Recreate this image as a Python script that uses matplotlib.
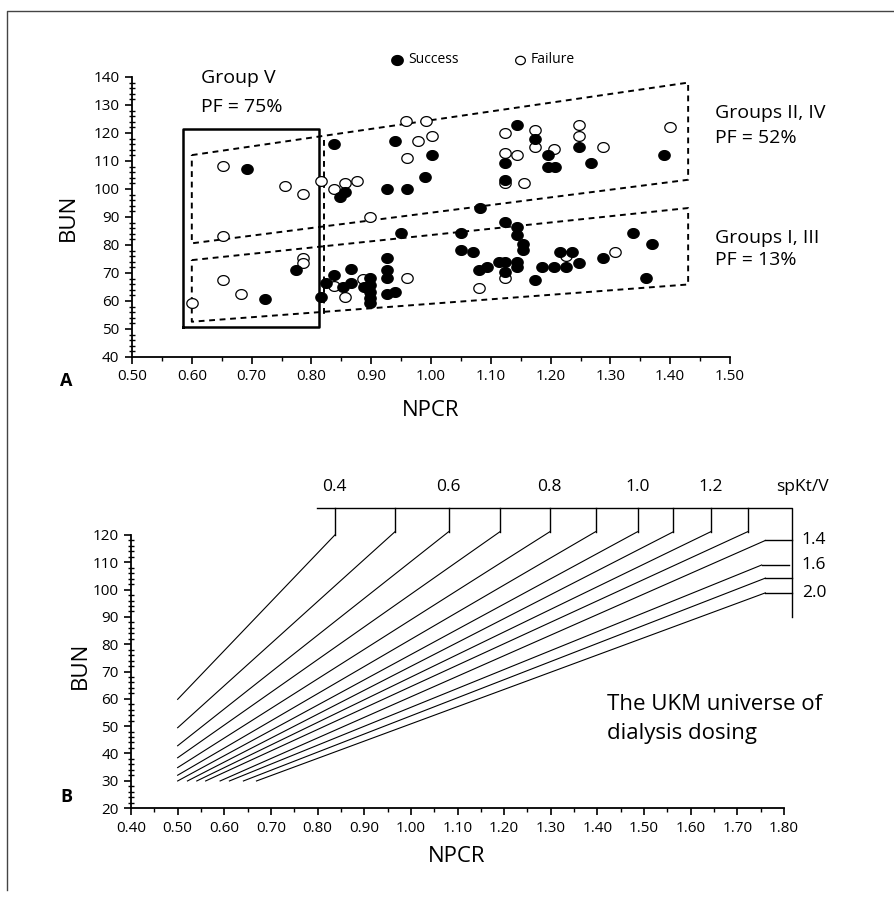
import numpy as np
import matplotlib
matplotlib.use("Agg")
import matplotlib.pyplot as plt
from matplotlib.path import Path
from matplotlib.lines import Line2D
from matplotlib.ticker import MultipleLocator, FormatStrFormatter

plt.rcParams['font.family'] = ['Open Sans', 'DejaVu Sans']

# ---- panel A: patient outcomes, NPCR vs BUN ----
fail_npcr = [0.653, 0.756, 0.786, 0.816, 0.837, 0.856, 0.877, 0.959, 0.992, 0.979, 1.001, 0.960,
             0.898, 0.652, 0.786, 0.786, 0.653, 0.683, 0.601, 0.887, 0.837, 0.857, 0.960,
             1.124, 1.174, 1.174, 1.247, 1.247, 1.287, 1.400, 1.124, 1.144, 1.205, 1.124, 1.155,
             1.308, 1.124, 1.081, 1.226]
fail_bun = [108.2, 101.2, 98.2, 103.0, 100.0, 102.2, 103.0, 124.2, 124.2, 117.1, 119.0, 111.2,
            90.1, 83.3, 75.2, 73.7, 67.5, 62.4, 59.4, 67.7, 65.4, 61.3, 68.1,
            119.9, 121.1, 115.1, 122.8, 119.0, 115.1, 122.0, 113.0, 112.1, 114.2, 102.3, 102.0,
            77.4, 68.1, 64.5, 76.1]

succ_npcr = [0.693, 0.837, 0.940, 1.001, 0.990, 0.927, 0.960, 0.857, 0.848, 0.950, 0.774, 0.723,
             0.816, 0.837, 0.867, 0.867, 0.853, 0.825, 0.888, 0.898, 0.898, 0.898, 0.898, 0.898,
             0.927, 0.927, 0.927, 0.927, 0.939,
             1.144, 1.174, 1.247, 1.196, 1.196, 1.207, 1.267, 1.124, 1.124, 1.389, 1.082, 1.123,
             1.144, 1.144, 1.051, 1.154, 1.154, 1.051, 1.071, 1.216, 1.235, 1.337, 1.369, 1.113,
             1.124, 1.144, 1.144, 1.093, 1.081, 1.124, 1.185, 1.206, 1.226, 1.247, 1.287, 1.174,
             1.360]
succ_bun = [107.0, 115.9, 117.1, 112.1, 104.2, 99.9, 99.9, 99.0, 97.0, 84.2, 71.1, 60.6,
            61.3, 69.3, 71.3, 66.5, 65.1, 66.3, 65.1, 68.1, 65.7, 63.3, 60.9, 59.2,
            75.2, 71.1, 68.1, 62.5, 63.3,
            122.9, 117.8, 115.1, 112.1, 108.0, 108.0, 109.2, 109.2, 103.2, 112.1, 93.3, 88.1,
            86.3, 83.6, 84.2, 80.3, 78.2, 78.2, 77.4, 77.4, 77.4, 84.2, 80.3, 74.0,
            74.0, 74.0, 72.2, 72.2, 71.1, 70.5, 72.2, 72.2, 72.2, 73.4, 75.2, 67.5,
            68.1]

# group outlines (corners in NPCR, BUN)
upper_band_x = [0.600, 1.430, 1.430, 0.600, 0.600]
upper_band_y = [112.1, 138.0, 103.3, 80.6, 112.1]
lower_band_x = [0.600, 1.430, 1.430, 0.600, 0.600]
lower_band_y = [74.6, 93.2, 65.9, 52.6, 74.6]
group5_x = [0.585, 0.813, 0.813, 0.585, 0.585]
group5_y = [50.6, 50.6, 121.3, 121.3, 50.6]

# ---- panel B: UKM lines of constant spKt/V ----
ktv = [0.4, 0.5, 0.6, 0.7, 0.8, 0.9, 1.0, 1.1, 1.2, 1.3, 1.4, 1.6, 1.8, 2.0]
start_npcr = [0.50, 0.50, 0.50, 0.50, 0.50, 0.50, 0.50, 0.521, 0.541, 0.560, 0.591, 0.611, 0.641, 0.669]
start_bun = [59.8, 49.4, 42.8, 38.4, 34.8, 32.0, 29.9, 29.9, 29.9, 29.9, 29.9, 29.9, 29.9, 29.9]
end_npcr = [0.837, 0.966, 1.081, 1.191, 1.298, 1.396, 1.486, 1.563, 1.643, 1.722, 1.760, 1.752, 1.760, 1.760]
end_bun = [120.0, 121.2, 121.2, 121.2, 121.2, 121.2, 121.2, 121.2, 121.2, 121.2, 118.0, 109.0, 104.2, 98.8]
top_labels = ['0.4', '', '0.6', '', '0.8', '', '1.0', '', '1.2', '']
side_labels = ['1.4', '1.6', '', '2.0']

W, H = 895, 911
fig = plt.figure(figsize=(W / 100, H / 100), dpi=100)


def fx(px):
    return px / W


def fy(py):
    return 1 - py / H


# outer frame (left and top edge)
fig.add_artist(Line2D([fx(7), fx(7), fx(895)], [fy(890), fy(11), fy(11)],
                      transform=fig.transFigure, color='#444444', lw=1.0))

# slightly flattened circle marker
t = np.linspace(0, 2 * np.pi, 60)
oval = Path(np.c_[np.cos(t), 0.86 * np.sin(t)], closed=True)


def style_axis(ax, xmin, xmax, ymin, ymax, ymaj):
    ax.set_xlim(xmin, xmax)
    ax.set_ylim(ymin, ymax)
    for s in ['top', 'right']:
        ax.spines[s].set_visible(False)
    for s in ['left', 'bottom']:
        ax.spines[s].set_linewidth(1.3)
    ax.xaxis.set_major_locator(MultipleLocator(0.1))
    ax.xaxis.set_minor_locator(MultipleLocator(0.05))
    ax.yaxis.set_major_locator(MultipleLocator(ymaj))
    ax.yaxis.set_minor_locator(MultipleLocator(2))
    ax.xaxis.set_major_formatter(FormatStrFormatter('%.2f'))
    ax.tick_params(which='major', direction='out', length=5, width=1.2, labelsize=11, pad=4)
    ax.tick_params(which='minor', direction='out', length=3, width=1.0)
    ax.tick_params(axis='y', which='minor', direction='inout', length=5)


# panel A
axA = fig.add_axes([fx(132), fy(357), fx(730) - fx(132), fy(77) - fy(357)])
style_axis(axA, 0.5, 1.5, 40, 140, 10)

axA.plot(upper_band_x, upper_band_y, color='black', lw=1.4, ls=(0, (3, 2.4)))
axA.plot(lower_band_x, lower_band_y, color='black', lw=1.4, ls=(0, (3, 2.4)))
axA.plot([0.821, 0.821], [117.6, 54.4], color='black', lw=1.4, ls=(0, (3, 2.4)))
axA.plot(group5_x, group5_y, color='black', lw=1.8)

axA.plot(fail_npcr, fail_bun, ls='none', marker=oval, ms=8.2, mfc='white', mec='black', mew=0.9)
axA.plot(succ_npcr, succ_bun, ls='none', marker=oval, ms=8.2, mfc='black', mec='black', mew=0.9)

# legend drawn above the plot area
axA.plot([0.943], [146.1], ls='none', marker=oval, ms=8.2, mfc='black', mec='black', clip_on=False)
axA.text(0.962, 146.1, 'Success', fontsize=10, va='center', ha='left')
axA.plot([1.149], [146.1], ls='none', marker=oval, ms=7, mfc='white', mec='black', mew=0.9, clip_on=False)
axA.text(1.166, 146.1, 'Failure', fontsize=10, va='center', ha='left')

axA.text(0.615, 139.5, 'Group V', fontsize=14, va='center', ha='left')
axA.text(0.615, 129.4, 'PF = 75%', fontsize=14, va='center', ha='left')
axA.text(1.475, 127.1, 'Groups II, IV', fontsize=14, va='center', ha='left')
axA.text(1.475, 118.2, 'PF = 52%', fontsize=14, va='center', ha='left')
axA.text(1.475, 82.5, 'Groups I, III', fontsize=14, va='center', ha='left')
axA.text(1.475, 74.6, 'PF = 13%', fontsize=14, va='center', ha='left')

fig.text(fx(68), fy(217), 'BUN', fontsize=16, rotation=90, ha='center', va='center')
fig.text(fx(431), fy(410), 'NPCR', fontsize=16, ha='center', va='center')
fig.text(fx(66), fy(381), 'A', fontsize=13, fontweight='bold', ha='center', va='center')

# panel B
axB = fig.add_axes([fx(131), fy(808), fx(784) - fx(131), fy(535) - fy(808)])
style_axis(axB, 0.4, 1.8, 20, 120, 10)

for i in range(len(ktv)):
    axB.plot([start_npcr[i], end_npcr[i]], [start_bun[i], end_bun[i]], color='black', lw=0.8, clip_on=False)

# spKt/V scale: top bar with ticks, right bar with ticks
bar_y = 130
right_x = 1.818
axB.plot([0.799, right_x, right_x], [bar_y, bar_y, 90], color='black', lw=1.0, clip_on=False)
for i in range(10):
    axB.plot([end_npcr[i], end_npcr[i]], [end_bun[i], bar_y], color='black', lw=1.0, clip_on=False)
    if top_labels[i]:
        axB.text(end_npcr[i], 137.6, top_labels[i], fontsize=12.5, ha='center', va='center')
for j, i in enumerate(range(10, 14)):
    x1 = right_x - 0.008 if ktv[i] == 1.6 else right_x
    axB.plot([end_npcr[i], x1], [end_bun[i], end_bun[i]], color='black', lw=1.0, clip_on=False)
    if side_labels[j]:
        axB.text(1.838, end_bun[i], side_labels[j], fontsize=12.5, ha='left', va='center')
axB.text(1.784, 137.6, 'spKt/V', fontsize=12.5, ha='left', va='center')

axB.text(1.42, 20 + (808 - 705) / 2.73, 'The UKM universe of', fontsize=16, ha='left', va='center')
axB.text(1.42, 20 + (808 - 733) / 2.73, 'dialysis dosing', fontsize=16, ha='left', va='center')

fig.text(fx(80), fy(665), 'BUN', fontsize=16, rotation=90, ha='center', va='center')
fig.text(fx(457), fy(857), 'NPCR', fontsize=16, ha='center', va='center')
fig.text(fx(66), fy(797), 'B', fontsize=13, fontweight='bold', ha='center', va='center')

fig.savefig('out.png', dpi=100)
